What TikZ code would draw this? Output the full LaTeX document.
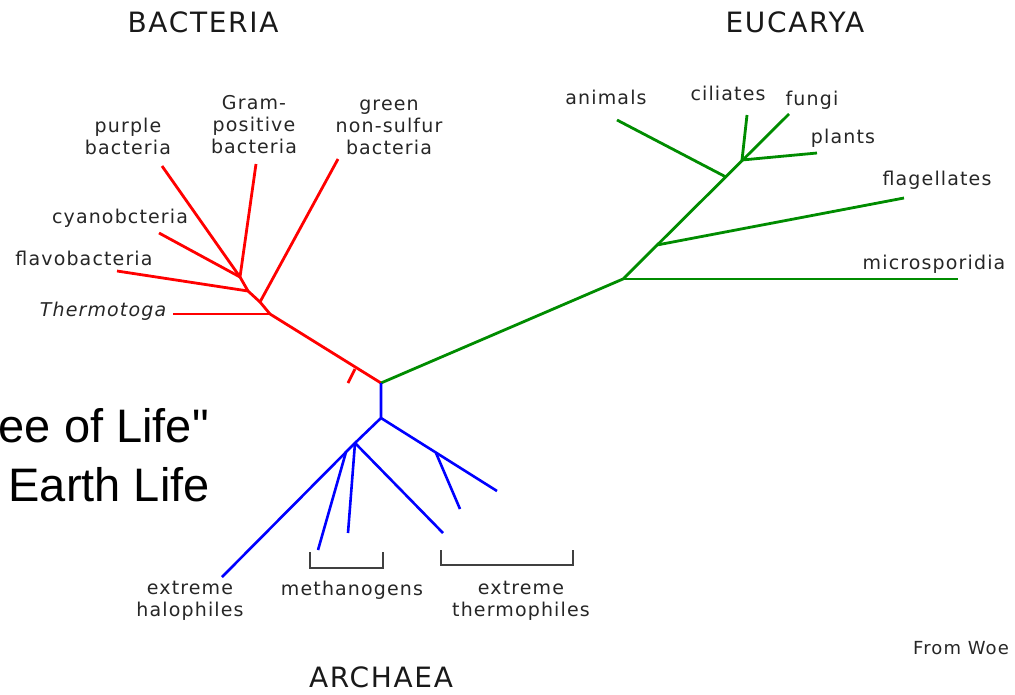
\documentclass[tikz,border=0pt]{standalone}
\usepackage{fontspec}
\setmainfont{DejaVu Sans}[LetterSpace=6]
\newfontfamily\arialfont{Liberation Sans}
\usetikzlibrary{positioning}

\begin{document}
\begin{tikzpicture}[
    x=1pt, y=-1pt,
    lbl/.style={align=center, inner sep=0pt, text=black!85, font=\fontsize{19}{22}\selectfont},
    domlbl/.style={inner sep=0pt, text=black!90, font=\fontsize{28}{30}\selectfont},
    bact/.style={red, line width=2.8pt},
    euca/.style={green!55!black, line width=2.8pt},
    arch/.style={blue, line width=2.6pt},
    brk/.style={black!75, line width=1.5pt}
]
\useasboundingbox (0,0) rectangle (1015,694);

% domain titles
\node[domlbl] (bacteria) at (203,22) {BACTERIA};
\node[domlbl] (eucarya) at (795,22) {EUCARYA};
\node[domlbl] (archaea) at (381,677) {ARCHAEA};
\node[inner sep=0pt, anchor=east, font=\arialfont\fontsize{47}{50}\selectfont] (tree) at (209,426) {ee of Life"};
\node[inner sep=0pt, anchor=east, font=\arialfont\fontsize{47}{50}\selectfont] (earth) at (210,485) {Earth Life};
\node[lbl, anchor=west, font=\fontsize{18}{20}\selectfont] (woe) at (913,648) {From Woe};

% labels
\node[lbl] (purple) at (128,136) {purple\\bacteria};
\node[lbl] (gram) at (254,125) {Gram-\\positive\\bacteria};
\node[lbl] (greenns) at (389,127) {green\\non-sulfur\\bacteria};
\node[lbl] (cyano) at (120,218) {cyanobcteria};
\node[lbl] (flavo) at (84,258) {flavobacteria};
\node[lbl, font=\itshape\fontsize{19}{22}\selectfont] (thermo) at (103,311) {Thermotoga};
\node[lbl] (animals) at (606,97) {animals};
\node[lbl] (ciliates) at (728,93) {ciliates};
\node[lbl] (fungi) at (812,100) {fungi};
\node[lbl] (plants) at (843,138) {plants};
\node[lbl] (flagel) at (937,180) {flagellates};
\node[lbl] (micro) at (934,264) {microsporidia};
\node[lbl] (halo) at (190,601) {extreme\\halophiles};
\node[lbl] (methano) at (352,590) {methanogens};
\node[lbl] (thermophil) at (521,601) {extreme\\thermophiles};

% junctions
\coordinate (root) at (381,383);
\coordinate (b1) at (355,369);
\coordinate (b2) at (270,314);
\coordinate (b3) at (260,302);
\coordinate (b4) at (248,291);
\coordinate (b5) at (240,277);
\coordinate (e1) at (623,279);
\coordinate (e2) at (657,245);
\coordinate (e3) at (726,177);
\coordinate (e4) at (742,160);
\coordinate (a1) at (381,418);
\coordinate (a2) at (355,443);
\coordinate (a3) at (346,452);
\coordinate (a4) at (436,453);

% tips
\coordinate (bstub) at (348,383);
\coordinate (bthermo) at (173,314);
\coordinate (bgreen) at (338,159);
\coordinate (bflavo) at (117,271);
\coordinate (bcyano) at (159,233);
\coordinate (bpurple) at (162,166);
\coordinate (bgram) at (256,164);
\coordinate (emicro) at (958,279);
\coordinate (eflag) at (904,198);
\coordinate (eanim) at (617,120);
\coordinate (efungi) at (789,114);
\coordinate (ecil) at (747,115);
\coordinate (eplant) at (817,153);
\coordinate (ahalo) at (222,577);
\coordinate (am1) at (318,550);
\coordinate (am2) at (348,533);
\coordinate (at1) at (443,533);
\coordinate (at2) at (460,509);
\coordinate (at3) at (497,491);

% bacteria
\draw[bact] (root) -- (b2) -- (b3) -- (b4) -- (b5);
\draw[bact] (b1) -- (bstub);
\draw[bact] (b2) -- (bthermo);
\draw[bact] (b3) -- (bgreen);
\draw[bact] (b4) -- (bflavo);
\draw[bact] (b5) -- (bcyano);
\draw[bact] (b5) -- (bpurple);
\draw[bact] (b5) -- (bgram);

% eucarya
\draw[euca] (root) -- (e1) -- (efungi);
\draw[euca] (e1) -- (emicro);
\draw[euca] (e2) -- (eflag);
\draw[euca] (e3) -- (eanim);
\draw[euca] (e4) -- (ecil);
\draw[euca] (e4) -- (eplant);

% archaea
\draw[arch] (root) -- (a1) -- (a2) -- (ahalo);
\draw[arch] (a1) -- (at3);
\draw[arch] (a4) -- (at2);
\draw[arch] (a3) -- (am1);
\draw[arch] (a2) -- (am2);
\draw[arch] (a2) -- (at1);

% brackets
\draw[brk] (310,552) -- (310,568) -- (383,568) -- (383,552);
\draw[brk] (441,550) -- (441,565) -- (573,565) -- (573,550);
\end{tikzpicture}
\end{document}
